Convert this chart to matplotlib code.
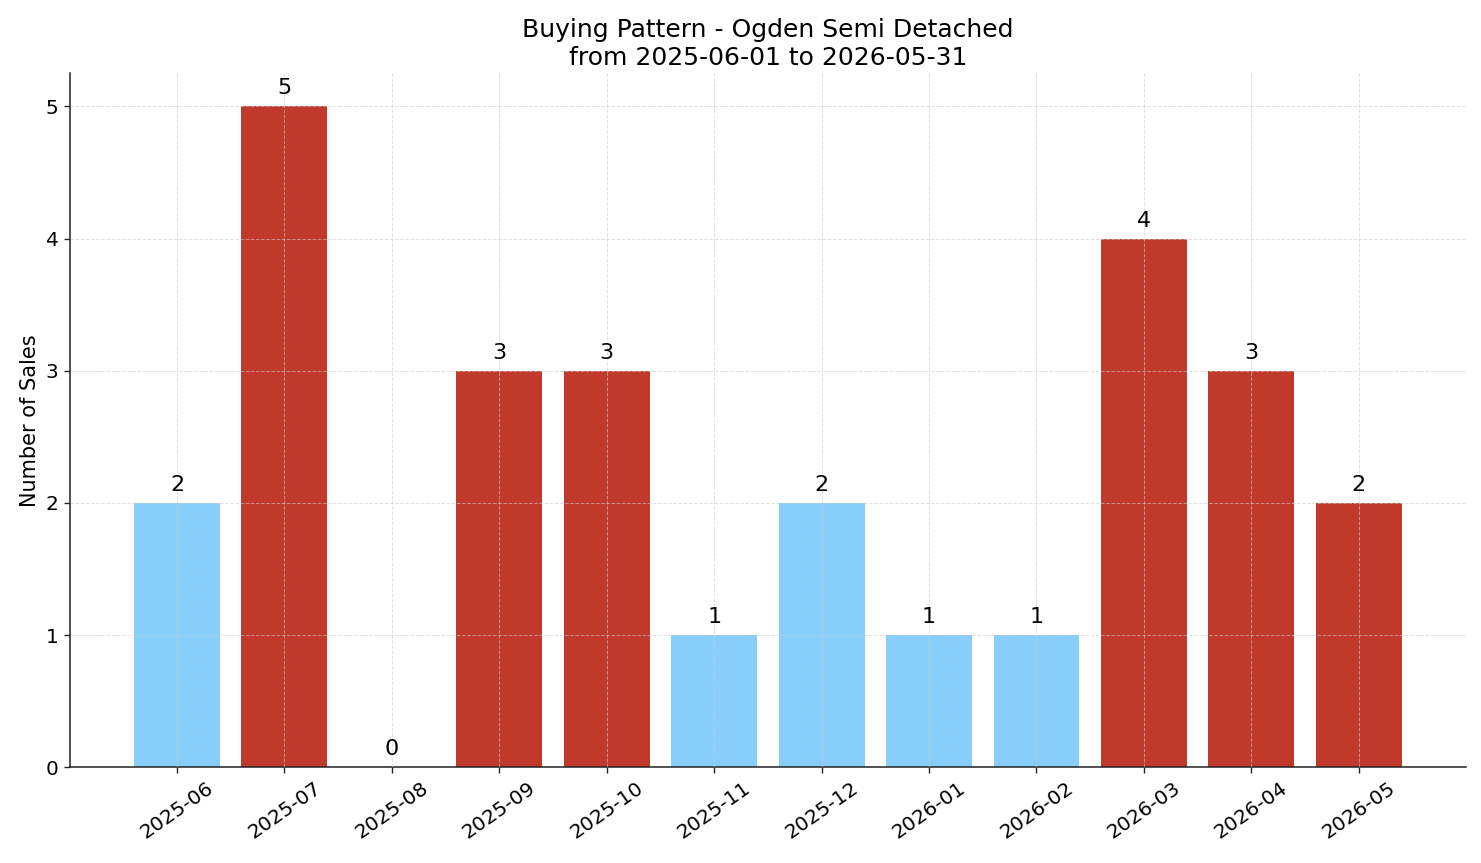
import numpy as np
import matplotlib.pyplot as plt

# monthly sales counts
months = ["2025-06", "2025-07", "2025-08", "2025-09", "2025-10", "2025-11",
          "2025-12", "2026-01", "2026-02", "2026-03", "2026-04", "2026-05"]
sales = [2, 5, 0, 3, 3, 1, 2, 1, 1, 4, 3, 2]
highlight = [False, True, True, True, True, False, False, False, False, True, True, True]

colors = ["#c0392b" if h else "#87cefa" for h in highlight]

fig, ax = plt.subplots(figsize=(14.81, 8.63), dpi=100)
x = np.arange(len(months))
ax.bar(x, sales, width=0.8, color=colors, zorder=1)

for xi, s in zip(x, sales):
    ax.text(xi, s + 0.06, str(s), ha="center", va="bottom", fontsize=16, zorder=4)

ax.set_xticks(x)
ax.set_xticklabels(months, rotation=35, fontsize=14.5)
ax.tick_params(axis="y", labelsize=14.5)
ax.tick_params(length=4.5, width=1.0, color="#222222")
ax.set_yticks(range(0, 6))
ax.set_xlim(-1, 12)
ax.set_ylim(0, 5.25)
ax.set_ylabel("Number of Sales", fontsize=15)
ax.set_title("Buying Pattern - Ogden Semi Detached\nfrom 2025-06-01 to 2026-05-31", fontsize=18)
ax.set_axisbelow(False)
ax.grid(True, linestyle="--", color="#cccccc", alpha=0.6, linewidth=0.7)
ax.spines["top"].set_visible(False)
ax.spines["right"].set_visible(False)
for side in ["left", "bottom"]:
    ax.spines[side].set_linewidth(1.1)
    ax.spines[side].set_color("#222222")

plt.subplots_adjust(left=0.047, right=0.99, top=0.915, bottom=0.111)
plt.savefig("out.png", dpi=100)
